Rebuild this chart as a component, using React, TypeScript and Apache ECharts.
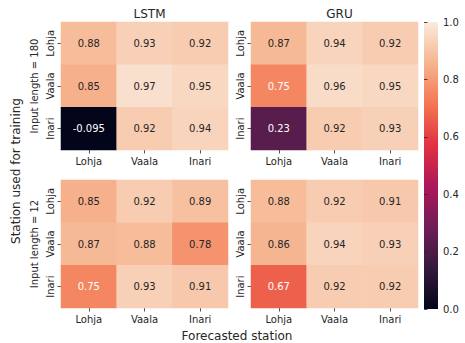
import React, { useEffect, useRef } from "react";
import * as echarts from "echarts";

const stations = ["Lohja", "Vaala", "Inari"];
const models = ["LSTM", "GRU"];
const inputLengths = ["Input length = 180", "Input length = 12"];

// rows: station used for training, cols: forecasted station
const lstm180 = [
  [0.88, 0.93, 0.92],
  [0.85, 0.97, 0.95],
  [-0.095, 0.92, 0.94],
];
const gru180 = [
  [0.87, 0.94, 0.92],
  [0.75, 0.96, 0.95],
  [0.23, 0.92, 0.93],
];
const lstm12 = [
  [0.85, 0.92, 0.89],
  [0.87, 0.88, 0.78],
  [0.75, 0.93, 0.91],
];
const gru12 = [
  [0.88, 0.92, 0.91],
  [0.86, 0.94, 0.93],
  [0.67, 0.92, 0.92],
];

const colorbarTicks = [0, 0.2, 0.4, 0.6, 0.8, 1.0];

const rocket = ["#03051a", "#35193e", "#701f57", "#ad1759", "#e13342", "#f37651", "#f6b48f", "#faebdd"];

const FONT = "DejaVu Sans";
const TXT = "#262626";

function hexToRgb(h: string) {
  return [parseInt(h.slice(1, 3), 16), parseInt(h.slice(3, 5), 16), parseInt(h.slice(5, 7), 16)];
}
function rocketAt(v: number) {
  const t = Math.max(0, Math.min(1, v)) * (rocket.length - 1);
  const i = Math.min(rocket.length - 2, Math.floor(t));
  const f = t - i;
  const a = hexToRgb(rocket[i]);
  const b = hexToRgb(rocket[i + 1]);
  return a.map((c, k) => c + (b[k] - c) * f);
}
function textColorFor(v: number) {
  const rgb = rocketAt(v).map((c) => {
    const s = c / 255;
    return s <= 0.03928 ? s / 12.92 : Math.pow((s + 0.055) / 1.055, 2.4);
  });
  const lum = 0.2126 * rgb[0] + 0.7152 * rgb[1] + 0.0722 * rgb[2];
  return lum > 0.408 ? TXT : "#ffffff";
}

export default function App() {
  const ref = useRef<HTMLDivElement>(null);
  useEffect(() => {
    if (!ref.current) return;
    const chart = echarts.init(ref.current, undefined, { renderer: "svg" });
    const panels = [lstm180, gru180, lstm12, gru12];
    const gridPos = [
      { left: 61, top: 22 },
      { left: 251, top: 22 },
      { left: 61, top: 180 },
      { left: 251, top: 180 },
    ];
    const grids: any[] = gridPos.map((p) => ({ left: p.left, top: p.top, width: 167, height: 128 }));
    grids.push({ left: 424, top: 22, width: 14, height: 287 });

    const xAxes: any[] = gridPos.map((_, i) => ({
      type: "category",
      gridIndex: i,
      data: stations,
      axisLine: { show: false },
      axisTick: { show: true, length: 3.5, lineStyle: { color: TXT, width: 0.8 }, alignWithLabel: true },
      axisLabel: { color: TXT, fontFamily: FONT, fontSize: 10, margin: 6 },
      splitLine: { show: false },
    }));
    xAxes.push({ type: "value", gridIndex: 4, show: false, min: 0, max: 1 });

    const yAxes: any[] = gridPos.map((_, i) => ({
      type: "category",
      gridIndex: i,
      data: stations,
      inverse: true,
      axisLine: { show: false },
      axisTick: { show: true, length: 3.5, lineStyle: { color: TXT, width: 0.8 }, alignWithLabel: true },
      axisLabel: { color: TXT, fontFamily: FONT, fontSize: 10, rotate: 90, margin: 6 },
      splitLine: { show: false },
      name: i % 2 === 0 ? inputLengths[i / 2] : "",
      nameLocation: "middle",
      nameRotate: 90,
      nameGap: 22,
      nameTextStyle: { color: TXT, fontFamily: FONT, fontSize: 10 },
    }));
    yAxes.push({
      type: "value",
      gridIndex: 4,
      position: "right",
      min: colorbarTicks[0],
      max: colorbarTicks[colorbarTicks.length - 1],
      interval: 0.2,
      axisLine: { show: false },
      axisTick: { show: true, length: 3.5, lineStyle: { color: TXT, width: 0.8 } },
      axisLabel: { color: TXT, fontFamily: FONT, fontSize: 10, margin: 5, formatter: (v: number) => v.toFixed(1) },
      splitLine: { show: false },
    });

    const series = panels.map((m, i) => ({
      type: "heatmap",
      xAxisIndex: i,
      yAxisIndex: i,
      data: m.flatMap((row, r) =>
        row.map((v, c) => ({
          value: [c, r, v],
          label: { color: textColorFor(v) },
        }))
      ),
      label: {
        show: true,
        fontFamily: FONT,
        fontSize: 10,
        formatter: (p: any) => String(Number(p.value[2].toPrecision(2))),
      },
      itemStyle: { borderWidth: 0 },
      emphasis: { disabled: true },
    }));

    chart.setOption({
      animation: false,
      backgroundColor: "#ffffff",
      textStyle: { fontFamily: FONT },
      title: models.map((m, i) => ({
        text: m,
        left: i === 0 ? 144.5 : 334.5,
        top: 3,
        textAlign: "center",
        textStyle: { color: TXT, fontFamily: FONT, fontSize: 12, fontWeight: "normal" },
      })),
      grid: grids,
      xAxis: xAxes,
      yAxis: yAxes,
      visualMap: {
        type: "continuous",
        show: false,
        seriesIndex: [0, 1, 2, 3],
        dimension: 2,
        min: 0,
        max: 1,
        inRange: { color: rocket },
        outOfRange: { color: [rocket[0]] },
      },
      series,
      graphic: [
        {
          type: "rect",
          left: 424,
          top: 22,
          shape: { width: 14, height: 287 },
          style: {
            fill: new echarts.graphic.LinearGradient(
              0,
              1,
              0,
              0,
              rocket.map((c, k) => ({ offset: k / (rocket.length - 1), color: c }))
            ),
          },
        },
        {
          type: "text",
          x: 16,
          y: 171,
          rotation: Math.PI / 2,
          style: {
            text: "Station used for training",
            fill: TXT,
            font: `12px ${FONT}`,
            align: "center",
            verticalAlign: "middle",
          },
        },
        {
          type: "text",
          x: 237,
          y: 336,
          style: {
            text: "Forecasted station",
            fill: TXT,
            font: `12px ${FONT}`,
            align: "center",
            verticalAlign: "middle",
          },
        },
      ],
    });
    return () => chart.dispose();
  }, []);
  return <div ref={ref} style={{ width: 465, height: 343, position: "absolute", left: 0, top: 0 }} />;
}
